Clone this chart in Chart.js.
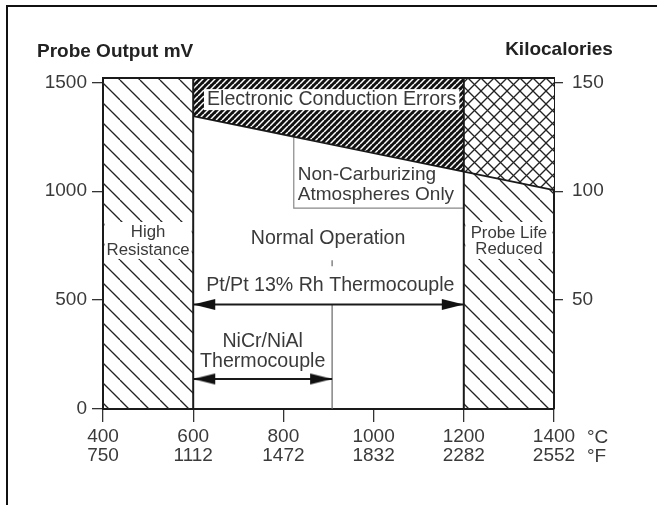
<!DOCTYPE html>
<html><head><meta charset="utf-8">
<script src="https://cdn.jsdelivr.net/npm/chart.js@4.4.1/dist/chart.umd.min.js"></script>
<style>
html,body{margin:0;padding:0;background:#fff;}
#wrap{position:relative;width:657px;height:505px;overflow:hidden;background:#fff;}
#frame{position:absolute;left:6px;top:5px;width:700px;height:600px;border-left:2px solid #111;border-top:2px solid #111;}
canvas{position:absolute;left:0;top:0;}
</style></head><body>
<div id="wrap"><div id="frame"></div><canvas id="c" width="657" height="505"></canvas></div>
<script>
// ---- data ----
const tempC = [400, 600, 800, 1000, 1200, 1400];
const tempF = ['750', '1112', '1472', '1832', '2282', '2552'];
const mvTicks = [0, 500, 1000, 1500];
const kcalTicks = [50, 100, 150];
const mvMax = 1520;
const zoneHighRes = [400, 600];
const zoneProbeLife = [1200, 1400];
const limitC = [600, 1200, 1400];
const limitMv = [1345, 1090, 1005];
const ptRangeC = [600, 1200];
const ptMv = 480;
const nicrRangeC = [600, 908];
const nicrMv = 138;
const nonCarbC = [823, 1200];
const nonCarbMv = 922;
const normalTickMv = [656, 683];

const FONT = '"Liberation Sans", Arial, Helvetica, sans-serif';
const INK = '#1a1a1a';
const TXT = '#3a3a3a';

function hatch(size, dirs, lw, color, bg) {
  const c = document.createElement('canvas'); c.width = size; c.height = size;
  const g = c.getContext('2d');
  if (bg) { g.fillStyle = bg; g.fillRect(0, 0, size, size); }
  g.strokeStyle = color; g.lineWidth = lw;
  for (const d of dirs) for (let i = -1; i <= 1; i++) {
    g.beginPath();
    if (d === '\\') { g.moveTo(i * size, 0); g.lineTo(i * size + size, size); }
    else { g.moveTo(i * size, size); g.lineTo(i * size + size, 0); }
    g.stroke();
  }
  return g.createPattern(c, 'repeat');
}
function arrowImg(dir) {
  const L = 22, H = 11;
  const c = document.createElement('canvas'); c.width = 2 * L + 2; c.height = H + 2;
  const g = c.getContext('2d'); const cx = c.width / 2, cy = c.height / 2;
  g.fillStyle = '#111'; g.beginPath(); g.moveTo(cx, cy);
  g.lineTo(cx + dir * L, cy - H / 2); g.lineTo(cx + dir * L, cy + H / 2); g.closePath(); g.fill();
  return c;
}
const arrowL = arrowImg(1), arrowR = arrowImg(-1);
const patSimple = hatch(20, ['\\'], 1.3, '#222');
const patDark = hatch(6, ['/'], 1.5, '#fff', '#111');
const patCross = hatch(13, ['\\', '/'], 1.3, '#222', '#fff');

const pts = (xs, ys) => xs.map((x, i) => ({ x, y: Array.isArray(ys) ? ys[i] : ys }));
const base = { pointRadius: 0, tension: 0, fill: false, borderWidth: 0, clip: false };

const datasets = [
  { ...base, data: pts(zoneHighRes, mvMax), fill: 'origin', backgroundColor: patSimple, order: 10 },
  { ...base, data: pts(limitC.slice(0, 2), limitMv.slice(0, 2)), borderColor: INK, borderWidth: 1.6, order: 2 },
  { ...base, data: pts(ptRangeC, mvMax), fill: { target: 1 }, backgroundColor: patDark, order: 10 },
  { ...base, data: pts(limitC.slice(1), limitMv.slice(1)), borderColor: INK, borderWidth: 1.6, fill: 'origin', backgroundColor: patSimple, order: 9 },
  { ...base, data: pts(zoneProbeLife, mvMax), fill: { target: 3 }, backgroundColor: patCross, order: 10 },
  { ...base, data: pts([400, 1400], mvMax), borderColor: INK, borderWidth: 2.2, order: 1 },
  { ...base, data: pts([600, 600], [0, mvMax]), borderColor: INK, borderWidth: 2, order: 1 },
  { ...base, data: pts([1200, 1200], [0, mvMax]), borderColor: INK, borderWidth: 2, order: 1 },
  { ...base, data: [{ x: nonCarbC[0], y: limitMv[0] + (limitMv[1] - limitMv[0]) * (nonCarbC[0] - limitC[0]) / (limitC[1] - limitC[0]) }, { x: nonCarbC[0], y: nonCarbMv }, { x: nonCarbC[1], y: nonCarbMv }], borderColor: '#888', borderWidth: 1.2, order: 3 },
  { ...base, data: pts(ptRangeC, ptMv), borderColor: INK, borderWidth: 2, pointRadius: 3, pointStyle: c => c.dataIndex === 0 ? arrowL : arrowR, order: 0 },
  { ...base, data: pts(nicrRangeC, nicrMv), borderColor: INK, borderWidth: 2, pointRadius: 3, pointStyle: c => c.dataIndex === 0 ? arrowL : arrowR, order: 0 },
  { ...base, data: pts([nicrRangeC[1], nicrRangeC[1]], [0, ptMv]), borderColor: '#666', borderWidth: 1.2, order: 3 },
  { ...base, data: pts([nicrRangeC[1], nicrRangeC[1]], normalTickMv), borderColor: '#666', borderWidth: 1.2, order: 3 },
];

const textPlugin = {
  id: 'texts',
  afterDatasetsDraw(chart) {
    const { ctx, chartArea, scales: { x, y } } = chart;
    const X = v => x.getPixelForValue(v), Y = v => y.getPixelForValue(v);
    ctx.save();
    ctx.textBaseline = 'middle';
    ctx.fillStyle = '#fff';
    ctx.fillRect(X(400) + 1.5, Y(859), X(600) - X(400) - 3, Y(689) - Y(859));
    ctx.fillRect(X(1200) + 1.5, Y(859), X(1400) - X(1200) - 3, Y(689) - Y(859));
    ctx.font = '19.6px ' + FONT;
    const ece = 'Electronic Conduction Errors';
    const w = ctx.measureText(ece).width;
    ctx.fillRect(X(907) - w / 2 - 3, Y(1423) - 10, w + 6, 21);

    ctx.fillStyle = TXT;
    ctx.textAlign = 'center';
    ctx.fillText(ece, X(907), Y(1423));
    ctx.fillText('Normal Operation', X(899), Y(781));
    ctx.fillText('Pt/Pt 13% Rh Thermocouple', X(904), Y(565));
    ctx.fillText('NiCr/NiAl', X(754), Y(308));
    ctx.fillText('Thermocouple', X(754), Y(216));
    ctx.font = '19px ' + FONT;
    ctx.textAlign = 'left';
    ctx.fillText('Non-Carburizing', X(832), Y(1074));
    ctx.fillText('Atmospheres Only', X(832), Y(983));
    ctx.fillText('°C', X(1400) + 33, 438);
    ctx.fillText('°F', X(1400) + 33, 457);
    ctx.font = '16.8px ' + FONT;
    ctx.textAlign = 'center';
    ctx.fillText('High', X(500), Y(813));
    ctx.fillText('Resistance', X(500), Y(730));
    ctx.fillText('Probe Life', X(1300), Y(808));
    ctx.fillText('Reduced', X(1300), Y(735));
    ctx.fillStyle = '#222';
    ctx.font = 'bold 19px ' + FONT;
    ctx.textAlign = 'left';
    ctx.fillText('Probe Output mV', chartArea.left - 66, 52);
    ctx.textAlign = 'center';
    ctx.fillText('Kilocalories', chartArea.right + 5, 50);
    ctx.restore();
  }
};

Chart.defaults.font.family = FONT;
Chart.defaults.font.size = 19;
Chart.defaults.color = TXT;

new Chart(document.getElementById('c'), {
  type: 'line',
  data: { datasets },
  plugins: [textPlugin],
  options: {
    responsive: false, animation: false, events: [],
    layout: { padding: { top: 78, left: 0, right: 0, bottom: 0 } },
    plugins: { legend: { display: false }, tooltip: { enabled: false } },
    scales: {
      x: {
        type: 'linear', min: 400, max: 1400,
        afterBuildTicks: s => { s.ticks = tempC.map(v => ({ value: v })); },
        afterFit: s => { s.height = 96; },
        ticks: { padding: 5, autoSkip: false, maxRotation: 0, font: { size: 19, lineHeight: 1 },
          callback: v => [String(v), tempF[tempC.indexOf(v)]] },
        grid: { drawOnChartArea: false, drawTicks: true, tickLength: 13, color: '#333', lineWidth: 1.3 },
        border: { display: true, color: INK, width: 2 }
      },
      y: {
        type: 'linear', position: 'left', min: 0, max: mvMax,
        afterBuildTicks: s => { s.ticks = mvTicks.map(v => ({ value: v })); },
        afterFit: s => { s.width = 103; },
        ticks: { padding: 5, font: { size: 19 }, callback: v => String(v) },
        grid: { drawOnChartArea: false, drawTicks: true, tickLength: 11, color: '#333', lineWidth: 1.3 },
        border: { display: true, color: INK, width: 2 }
      },
      y1: {
        type: 'linear', position: 'right', min: 0, max: mvMax / 10,
        afterBuildTicks: s => { s.ticks = kcalTicks.map(v => ({ value: v })); },
        afterFit: s => { s.width = 103; },
        ticks: { padding: 9, font: { size: 19 }, callback: v => String(v) },
        grid: { drawOnChartArea: false, drawTicks: true, tickLength: 9, color: '#333', lineWidth: 1.3 },
        border: { display: true, color: INK, width: 2 }
      }
    }
  }
});
</script>
</body></html>
